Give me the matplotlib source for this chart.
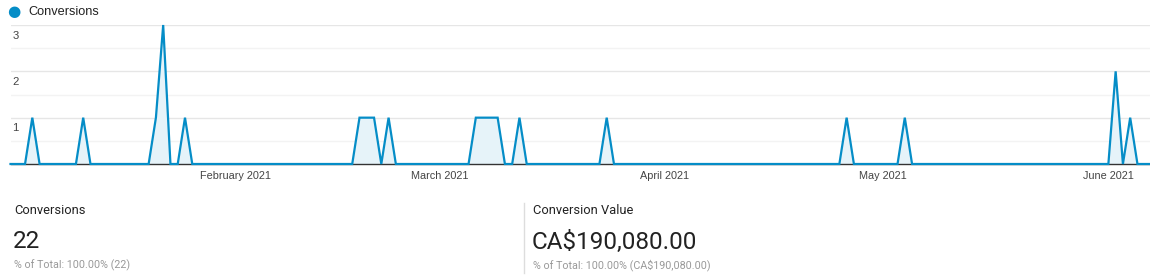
import matplotlib
matplotlib.use("Agg")
import matplotlib.pyplot as plt
import matplotlib.dates as mdates
import numpy as np
import pandas as pd

# ---- data ----
start_date = "2021-01-01"
end_date = "2021-06-07"
conv_dates = ["2021-01-04", "2021-01-11", "2021-01-21", "2021-01-22", "2021-01-25",
              "2021-02-18", "2021-02-19", "2021-02-20", "2021-02-22",
              "2021-03-06", "2021-03-07", "2021-03-08", "2021-03-09",
              "2021-03-12", "2021-03-24", "2021-04-26", "2021-05-04",
              "2021-06-02", "2021-06-04"]
conv_values = [1, 1, 1, 3, 1,
               1, 1, 1, 1,
               1, 1, 1, 1,
               1, 1, 1, 1,
               2, 1]
series_name = "Conversions"
y_ticks = [1, 2, 3]
month_ticks = ["2021-02-01", "2021-03-01", "2021-04-01", "2021-05-01", "2021-06-01"]
summary_titles = ["Conversions", "Conversion Value"]
summary_values = ["22", "CA$190,080.00"]
summary_subs = ["% of Total: 100.00% (22)", "% of Total: 100.00% (CA$190,080.00)"]

days = pd.date_range(start_date, end_date, freq="D")
series = pd.Series(0.0, index=days)
for d, v in zip(conv_dates, conv_values):
    series[pd.Timestamp(d)] = v

W, H = 1150, 280
fig = plt.figure(figsize=(W / 100, H / 100), dpi=100)
fig.patch.set_facecolor("white")

BLUE = "#058dc7"
FILL = "#e6f3f9"

ax = fig.add_axes([10.5 / W, (H - 164) / H, 1141.5 / W, 139 / H])
x = mdates.date2num(series.index.to_pydatetime())
ax.fill_between(x, series.values, 0, color=FILL, zorder=2, linewidth=0)
ax.plot(x, series.values, color=BLUE, lw=1.6, zorder=4, solid_joinstyle="miter",
        clip_on=False)
ax.set_xlim(x[0], x[-1])
ax.set_ylim(0, 3)

for s in ["top", "right", "left"]:
    ax.spines[s].set_visible(False)
ax.spines["bottom"].set_color("#333333")
ax.spines["bottom"].set_linewidth(1.0)
ax.spines["bottom"].set_zorder(3)

ax.set_yticks(y_ticks)
ax.set_yticks([0.5, 1.5, 2.5], minor=True)
ax.set_yticklabels([])
ax.tick_params(axis="y", which="both", length=0)
ax.grid(axis="y", which="major", color="#e6e6e6", lw=1, zorder=0)
ax.grid(axis="y", which="minor", color="#f3f3f3", lw=1, zorder=0)
for v in y_ticks:
    ax.annotate(str(v), xy=(0, v), xycoords=("axes fraction", "data"),
                xytext=(1.5, -4), textcoords="offset points", va="top", ha="left",
                fontsize=8.1, color="#444444", family="Liberation Sans")

ax.set_xticks(mdates.date2num(pd.to_datetime(month_ticks).to_pydatetime()))
ax.xaxis.set_major_formatter(mdates.DateFormatter("%B %Y"))
ax.tick_params(axis="x", length=0, pad=5, labelsize=7.8, labelcolor="#444444")
for lab in ax.get_xticklabels():
    lab.set_family("Liberation Sans")

# legend
fig.text(14 / W, (H - 12) / H, "\u25cf", color=BLUE, fontsize=11, ha="center", va="center",
         family="DejaVu Sans")
fig.text(28 / W, (H - 12) / H, series_name, color="#222222", fontsize=9.2, ha="left",
         va="center", family="Liberation Sans")

# summary
cols_x = [14, 533]
for cx, t, val, sub in zip(cols_x, summary_titles, summary_values, summary_subs):
    fig.text(cx / W, (H - 211) / H, t, fontsize=9.3, color="#222222", ha="left",
             va="center", family="Roboto")
    fig.text((cx - 1) / W, (H - 242) / H, val, fontsize=17.5, color="#222222", ha="left",
             va="center", family="Roboto")
    fig.text(cx / W, (H - 265) / H, sub, fontsize=7.75, color="#999999", ha="left",
             va="center", family="Roboto")

fig.add_artist(matplotlib.lines.Line2D([523.5 / W, 523.5 / W], [(H - 203) / H, (H - 273) / H],
                                       color="#dddddd", lw=1, transform=fig.transFigure))

fig.savefig("out.png", dpi=100, facecolor="white")
